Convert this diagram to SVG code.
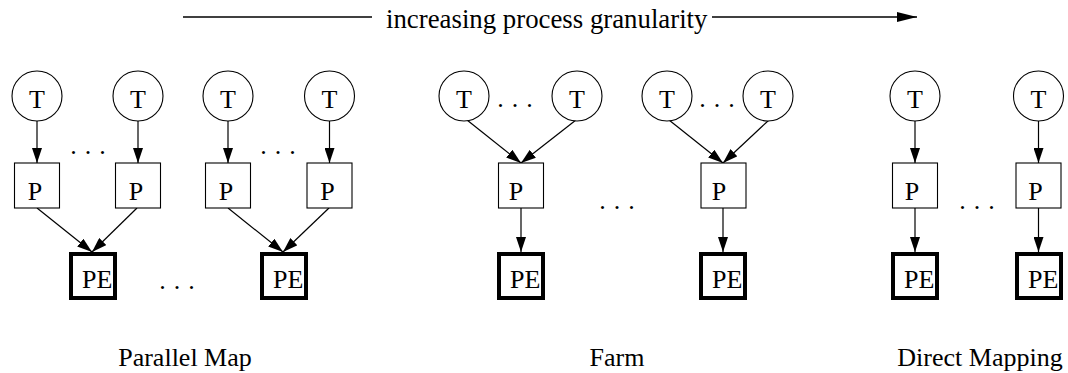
<svg xmlns="http://www.w3.org/2000/svg" width="1068" height="373" viewBox="0 0 1068 373">
  <style>
    text { font-family: "Liberation Serif", "Times New Roman", serif; font-size: 26px; fill: #000; }
    .mid { text-anchor: middle; }
    .task { fill: #fff; stroke: #000; stroke-width: 1.1; }
    .proc { fill: #fff; stroke: #000; stroke-width: 1.1; }
    .pe { fill: #fff; stroke: #000; stroke-width: 4; }
    .edge { fill: none; stroke: #000; stroke-width: 1.2; marker-end: url(#head); }
    .dots { text-anchor: middle; word-spacing: 1.5px; }
  </style>
  <defs>
    <marker id="head" viewBox="0 0 15 10" refX="15" refY="5" markerWidth="15" markerHeight="10" markerUnits="userSpaceOnUse" orient="auto">
      <path d="M0,0 L15,5 L0,10 Z" fill="#000"/>
    </marker>
    <marker id="bighead" viewBox="0 0 20 10" refX="20" refY="5" markerWidth="20" markerHeight="10" markerUnits="userSpaceOnUse" orient="auto">
      <path d="M0,0 L20,5 L0,10 Z" fill="#000"/>
    </marker>
  </defs>

  <!-- granularity axis -->
  <g id="axis">
    <line x1="183" y1="17" x2="372" y2="17" stroke="#000" stroke-width="1.5"/>
    <line x1="712" y1="17" x2="917" y2="17" stroke="#000" stroke-width="1.5" marker-end="url(#bighead)"/>
    <text x="386" y="28" style="font-size:26.8px">increasing process granularity</text>
  </g>

  <!-- connectors -->
  <g id="connectors">
    <!-- parallel map -->
    <line class="edge" x1="37" y1="121" x2="37" y2="163"/>
    <line class="edge" x1="138" y1="121" x2="138" y2="163"/>
    <line class="edge" x1="228" y1="121" x2="228" y2="163"/>
    <line class="edge" x1="329.5" y1="121" x2="329.5" y2="163"/>
    <line class="edge" x1="37" y1="208" x2="92" y2="252"/>
    <line class="edge" x1="137" y1="208" x2="92" y2="252"/>
    <line class="edge" x1="228" y1="208" x2="283" y2="252"/>
    <line class="edge" x1="329" y1="208" x2="283" y2="252"/>
    <!-- farm -->
    <line class="edge" x1="467" y1="120" x2="521" y2="163"/>
    <line class="edge" x1="576" y1="120" x2="521" y2="163"/>
    <line class="edge" x1="669" y1="120" x2="723" y2="163"/>
    <line class="edge" x1="769" y1="120" x2="723" y2="163"/>
    <line class="edge" x1="521" y1="208" x2="521" y2="252"/>
    <line class="edge" x1="723" y1="208" x2="723" y2="252"/>
    <!-- direct mapping -->
    <line class="edge" x1="915" y1="121" x2="915" y2="163"/>
    <line class="edge" x1="1038.5" y1="121" x2="1038.5" y2="163"/>
    <line class="edge" x1="915" y1="208" x2="915" y2="252"/>
    <line class="edge" x1="1038.5" y1="208" x2="1038.5" y2="252"/>
  </g>

  <!-- Parallel Map -->
  <g id="pm-t1"><circle class="task" cx="37" cy="96" r="25"/><text class="mid" x="37" y="108">T</text></g>
  <g id="pm-t2"><circle class="task" cx="138" cy="96" r="25"/><text class="mid" x="138" y="108">T</text></g>
  <g id="pm-t3"><circle class="task" cx="228" cy="96" r="25"/><text class="mid" x="228" y="108">T</text></g>
  <g id="pm-t4"><circle class="task" cx="329.5" cy="96" r="25"/><text class="mid" x="329.5" y="108">T</text></g>
  <g id="pm-p1"><rect class="proc" x="14.5" y="163" width="45" height="45"/><text class="mid" x="35" y="200">P</text></g>
  <g id="pm-p2"><rect class="proc" x="115.5" y="163" width="45" height="45"/><text class="mid" x="136" y="200">P</text></g>
  <g id="pm-p3"><rect class="proc" x="205.5" y="163" width="45" height="45"/><text class="mid" x="226" y="200">P</text></g>
  <g id="pm-p4"><rect class="proc" x="307" y="163" width="45" height="45"/><text class="mid" x="327.5" y="200">P</text></g>
  <g id="pm-pe1"><rect class="pe" x="71" y="254" width="44" height="44"/><text x="82" y="288">PE</text></g>
  <g id="pm-pe2"><rect class="pe" x="262" y="254" width="44" height="44"/><text x="273" y="288">PE</text></g>
  <text class="dots" x="88" y="154">. . .</text>
  <text class="dots" x="278" y="154">. . .</text>
  <text class="dots" x="177" y="289">. . .</text>
  <text class="mid" x="185" y="366">Parallel Map</text>

  <!-- Farm -->
  <g id="farm-t1"><circle class="task" cx="464" cy="96" r="25"/><text class="mid" x="464" y="108">T</text></g>
  <g id="farm-t2"><circle class="task" cx="577" cy="96" r="25"/><text class="mid" x="577" y="108">T</text></g>
  <g id="farm-t3"><circle class="task" cx="667" cy="96" r="25"/><text class="mid" x="667" y="108">T</text></g>
  <g id="farm-t4"><circle class="task" cx="768" cy="96" r="25"/><text class="mid" x="768" y="108">T</text></g>
  <g id="farm-p1"><rect class="proc" x="498.5" y="163" width="45" height="45"/><text class="mid" x="516" y="200">P</text></g>
  <g id="farm-p2"><rect class="proc" x="701" y="163" width="45" height="45"/><text class="mid" x="719" y="200">P</text></g>
  <g id="farm-pe1"><rect class="pe" x="499" y="254" width="44" height="44"/><text x="510" y="288">PE</text></g>
  <g id="farm-pe2"><rect class="pe" x="701" y="254" width="44" height="44"/><text x="712" y="288">PE</text></g>
  <text class="dots" x="515" y="107">. . .</text>
  <text class="dots" x="717" y="107">. . .</text>
  <text class="dots" x="617" y="209">. . .</text>
  <text class="mid" x="617" y="366">Farm</text>

  <!-- Direct Mapping -->
  <g id="dm-t1"><circle class="task" cx="915" cy="96" r="25"/><text class="mid" x="915" y="108">T</text></g>
  <g id="dm-t2"><circle class="task" cx="1038.5" cy="96" r="25"/><text class="mid" x="1038.5" y="108">T</text></g>
  <g id="dm-p1"><rect class="proc" x="892.5" y="163" width="45" height="45"/><text class="mid" x="912" y="200">P</text></g>
  <g id="dm-p2"><rect class="proc" x="1016" y="163" width="45" height="45"/><text class="mid" x="1035.5" y="200">P</text></g>
  <g id="dm-pe1"><rect class="pe" x="893" y="254" width="44" height="44"/><text x="904" y="288">PE</text></g>
  <g id="dm-pe2"><rect class="pe" x="1017" y="254" width="44" height="44"/><text x="1028" y="288">PE</text></g>
  <text class="dots" x="977" y="209">. . .</text>
  <text class="mid" x="980" y="366">Direct Mapping</text>
</svg>
